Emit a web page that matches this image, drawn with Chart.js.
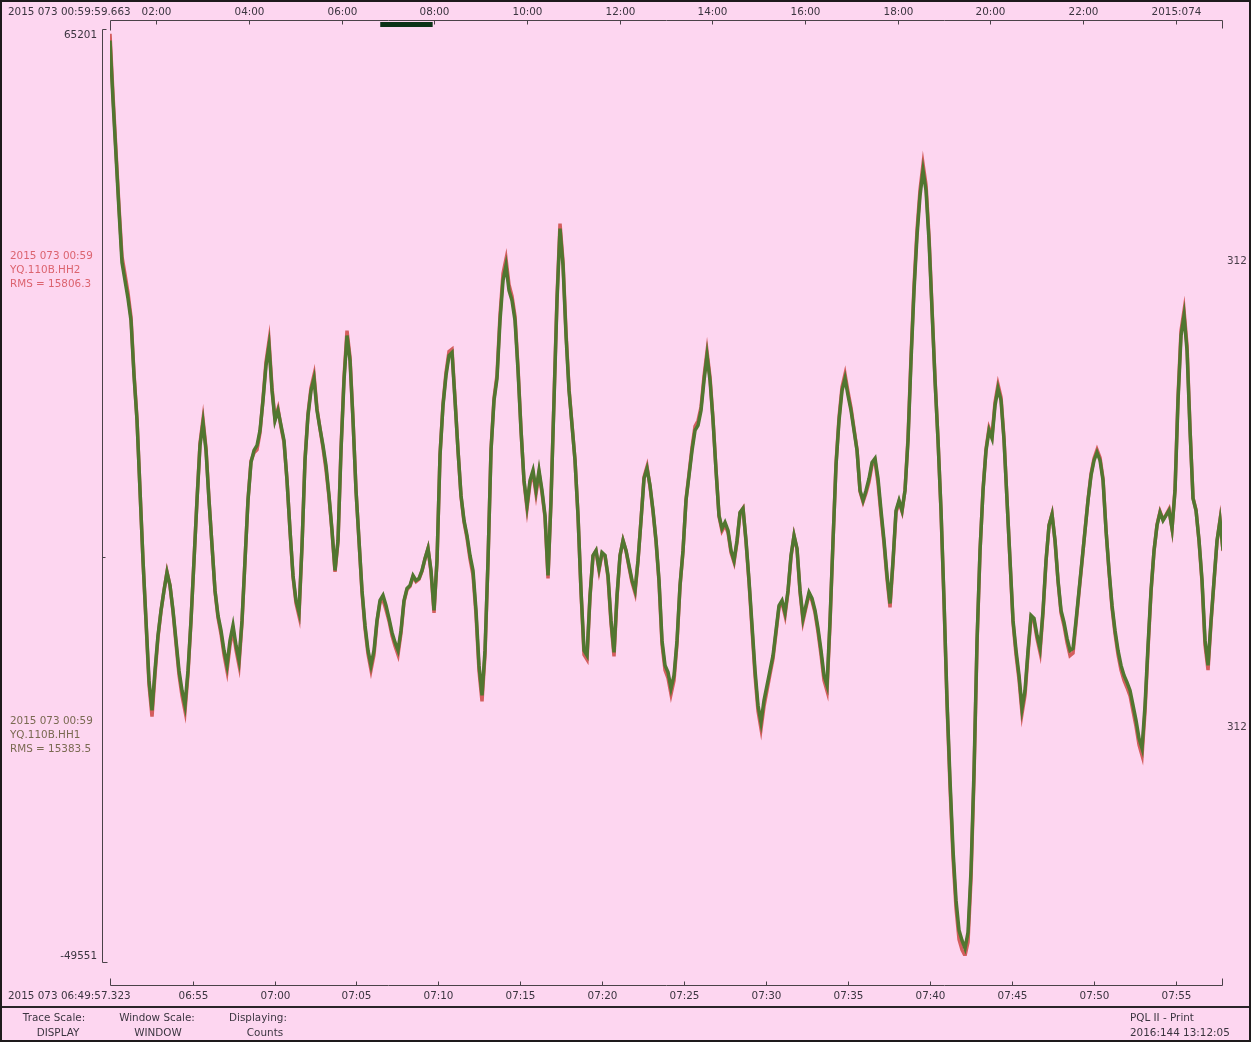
<!DOCTYPE html>
<html>
<head>
<meta charset="utf-8">
<script src="https://cdn.jsdelivr.net/npm/chart.js@4.4.1/dist/chart.umd.min.js"></script>
<style>
  html, body { margin: 0; padding: 0; background: #fdd6f0; }
  #wrap { position: relative; width: 1251px; height: 1042px; }
  canvas { display: block; }
</style>
</head>
<body>
<div id="wrap"><canvas id="pql" width="1251" height="1042"></canvas></div>
<script>
// ---- trace window (seconds of day 2015 073) ----
const windowStartSec = 6 * 3600 + 49 * 60 + 57.323;   // 06:49:57.323
const windowEndSec = 28669.7;                          // ~07:57:49.7
const sampleSec = 10.987;                              // decimated sample interval

// ---- full-day overview axis (seconds of day) ----
const dayStartSec = 3599.663;                          // 00:59:59.663
const dayEndSec = dayStartSec + 86400;

const countsMax = 65201;
const countsMin = -49551;
const countsMarks = [0];

// YQ.110B.HH1 (green), counts
const hh1Counts = [
  64260, 56810, 49970, 43130, 36670, 34430, 32190, 29460, 22620, 17030,
  8330, -370, -7830, -15290, -19020, -14050, -9700, -6590, -4100, -1860,
  -3480, -6590, -10320, -14050, -16530, -18400, -14050, -7830, -370, 7090,
  13920, 16780, 13300, 7090, 1490, -4100, -7210, -9070, -11560, -13420,
  -10320, -8450, -10940, -12800, -7830, -370, 7090, 11810, 13300, 13920,
  15790, 19520, 23870, 26350, 20760, 17030, 18270, 16410, 14540, 9570,
  3360, -2240, -5350, -6840, 1490, 12060, 17650, 20760, 22250, 18270,
  16030, 13920, 11440, 7710, 3360, -1620, 2110, 13300, 22000, 27590,
  24490, 17030, 8330, 2110, -4100, -8450, -11560, -13420, -11560, -7830,
  -5350, -4720, -5970, -7580, -9320, -10570, -11560, -9070, -5350, -3850,
  -3480, -2240, -2860, -2610, -1620, -120, 1120, -1620, -6590, -370,
  12680, 18890, 22620, 25110, 25480, 19520, 13300, 7710, 4600, 2730,
  250, -1620, -6590, -13420, -17150, -11560, -370, 13300, 19520, 22250,
  29460, 34430, 36300, 33190, 31950, 29460, 23240, 15790, 9570, 6460,
  9570, 10810, 8330, 10810, 8330, 5220, -2240, 7090, 19520, 31950,
  40890, 36300, 27590, 20760, 16410, 12060, 5220, -4100, -11560, -12180,
  -4720, 250, 870, -1370, 620, 250, -2240, -7830, -11810, -4720,
  250, 2110, 870, -990, -2860, -4100, -370, 4600, 9820, 11060,
  8950, 5840, 2110, -2860, -10320, -13420, -14290, -16280, -14670, -10320,
  -3480, 870, 7090, 10190, 13300, 15790, 16410, 18270, 22000, 25110,
  22000, 17030, 10810, 5220, 3600, 4350, 3360, 870, -370, 2110,
  5590, 6090, 2110, -2860, -8450, -14050, -18400, -20510, -17770, -15910,
  -14050, -12180, -9070, -5970, -5350, -6840, -4100, 250, 2730, 1120,
  -4100, -7580, -5970, -4350, -5100, -6590, -8830, -11560, -14670, -15910,
  -7830, 2110, 11440, 17030, 20760, 22250, 20140, 18270, 15790, 13300,
  8330, 7090, 8330, 9820, 11810, 12310, 9820, 5840, 2110, -2240,
  -5720, -370, 5840, 7090, 5840, 8330, 14540, 24490, 33190, 40020,
  45000, 48100, 45620, 39400, 30700, 22000, 14540, 5840, -5350, -17770,
  -27720, -36420, -42640, -46360, -47610, -48600, -46610, -38910, -26480, -10320,
  870, 8330, 13300, 15790, 14790, 18890, 21010, 19520, 14540, 7090,
  -370, -7830, -11560, -14670, -18770, -16530, -11560, -7210, -7580, -9700,
  -11310, -6590, -370, 3980, 5350, 2110, -2860, -6590, -8080, -10070,
  -11560, -11310, -7830, -4100, -370, 3360, 7090, 10190, 12060, 13050,
  12060, 9570, 3360, -1620, -5970, -9070, -11560, -13420, -14670, -15540,
  -16530, -18400, -20260, -22500, -23740, -18400, -10940, -4100, 870, 3980,
  5590, 4600, 5220, 5840, 3600, 8330, 19520, 27590, 30080, 25730,
  15790, 7330, 5840, 2110, -2860, -10320, -13420, -7830, -2860, 2110,
  4600, 870
];

// YQ.110B.HH2 (red), counts
const hh2Counts = [
  65100, 57500, 50500, 43600, 37400, 35200, 32900, 29900, 22900, 17200,
  8400, -400, -8000, -15800, -19800, -14600, -9900, -6700, -4100, -1800,
  -3500, -6700, -10700, -14600, -17200, -19100, -14500, -7900, -400, 7200,
  14200, 17200, 13600, 7200, 1500, -4200, -7500, -9500, -12100, -14100,
  -10900, -9000, -11500, -13400, -8100, -400, 7200, 12000, 13000, 13400,
  15500, 19700, 24300, 26900, 21100, 17200, 18500, 16200, 14300, 9600,
  3300, -2400, -5700, -7300, 1400, 12200, 17900, 21100, 22700, 18500,
  16000, 13600, 10900, 7500, 3200, -1800, 2000, 13500, 22400, 28200,
  24900, 17200, 8300, 2000, -4300, -8800, -12000, -14000, -12100, -8000,
  -5600, -5300, -6500, -7900, -9700, -11000, -12100, -9400, -5500, -4000,
  -3600, -2400, -3000, -2700, -1700, -200, 1100, -1800, -6900, -400,
  12800, 19100, 23000, 25600, 25900, 19700, 13300, 7600, 4400, 2400,
  -200, -2200, -7100, -14100, -17900, -12100, -400, 13400, 19800, 22700,
  30100, 35300, 37100, 33900, 32500, 30000, 23600, 15900, 9400, 6100,
  9200, 10500, 7900, 10500, 8000, 5000, -2600, 7200, 19800, 32400,
  41500, 36800, 28000, 21000, 16500, 12100, 5100, -4300, -12100, -12700,
  -4900, 200, 800, -1600, 500, 200, -2500, -8200, -12300, -4900,
  200, 2100, 800, -1200, -3100, -4400, -400, 4700, 10000, 11300,
  8800, 5700, 2000, -3100, -10800, -14000, -15000, -17000, -15300, -10700,
  -3600, 800, 7200, 10400, 13700, 16300, 17000, 18700, 22500, 25600,
  22400, 17200, 10900, 5100, 3300, 4000, 3100, 600, -600, 1900,
  5500, 6100, 1900, -3100, -8900, -14700, -19100, -21300, -18500, -16500,
  -14500, -12600, -9400, -6200, -5600, -7200, -4300, 100, 2700, 1000,
  -4300, -7900, -6200, -4600, -5400, -6900, -9300, -12100, -15300, -16600,
  -8200, 2000, 11700, 17400, 21200, 22800, 20600, 18600, 16000, 13400,
  8200, 6900, 8000, 9400, 11500, 12000, 9200, 5300, 1700, -2700,
  -6200, -600, 5600, 6900, 5700, 8400, 14900, 25000, 33800, 40700,
  45700, 48900, 46300, 39900, 31000, 22200, 14600, 5700, -5600, -18300,
  -28500, -37300, -43600, -47500, -48800, -49500, -47800, -39900, -27200, -10700,
  800, 8400, 13500, 16100, 15100, 19300, 21500, 19900, 14800, 7100,
  -500, -8100, -12100, -15200, -19400, -17100, -12000, -7500, -7900, -10100,
  -11800, -6900, -500, 4000, 5400, 2000, -3000, -6900, -8500, -10600,
  -12200, -11900, -8200, -4300, -500, 3400, 7200, 10400, 12300, 13400,
  12400, 9800, 3400, -1800, -6300, -9500, -12100, -14000, -15300, -16200,
  -17200, -19100, -21000, -23300, -24600, -19100, -11400, -4300, 800, 4100,
  5700, 4700, 5300, 6000, 3600, 8500, 20000, 28200, 30700, 26300,
  16000, 7400, 5900, 2000, -3100, -10900, -14000, -8100, -3000, 2000,
  4700, 800
];

// time-axis ticks (seconds of day) and labels
const windowTickSec = [24900, 25200, 25500, 25800, 26100, 26400, 26700, 27000, 27300, 27600, 27900, 28200, 28500];
const windowTickLabels = ['06:55', '07:00', '07:05', '07:10', '07:15', '07:20', '07:25', '07:30', '07:35', '07:40', '07:45', '07:50', '07:55'];
const dayTickSec = [7200, 14400, 21600, 28800, 36000, 43200, 50400, 57600, 64800, 72000, 79200, 86400];
const dayTickLabels = ['02:00', '04:00', '06:00', '08:00', '10:00', '12:00', '14:00', '16:00', '18:00', '20:00', '22:00', '2015:074'];

const dayStartLabel = '2015 073 00:59:59.663';
const windowStartLabel = '2015 073 06:49:57.323';

const traceLabels = [
  { lines: ['2015 073 00:59', 'YQ.110B.HH2', 'RMS = 15806.3'], color: '#dc6470', y: 256, scale: '312', scaleY: 261 },
  { lines: ['2015 073 00:59', 'YQ.110B.HH1', 'RMS = 15383.5'], color: '#7a6a52', y: 721, scaleY: 727, scale: '312' }
];

const statusLeft = [
  { title: 'Trace Scale:', value: 'DISPLAY', cx: 54, vx: 58 },
  { title: 'Window Scale:', value: 'WINDOW', cx: 157, vx: 158 },
  { title: 'Displaying:', value: 'Counts', cx: 258, vx: 265 }
];
const statusRight = ['PQL II - Print', '2016:144 13:12:05'];

const toPoints = arr => arr.map((v, i) => ({ x: windowStartSec + i * sampleSec, y: v }));

const FONT = '10.4px "DejaVu Sans", sans-serif';
const INK = '#3b3540';
const AXIS = '#4a4248';
const BG = '#fdd6f0';

function hline(ctx, x1, x2, y) { ctx.beginPath(); ctx.moveTo(x1, y); ctx.lineTo(x2, y); ctx.stroke(); }
function vline(ctx, x, y1, y2) { ctx.beginPath(); ctx.moveTo(x, y1); ctx.lineTo(x, y2); ctx.stroke(); }

const pqlFrame = {
  id: 'pqlFrame',
  beforeDraw(chart) {
    const ctx = chart.ctx;
    ctx.save();
    ctx.fillStyle = BG;
    ctx.fillRect(0, 0, chart.width, chart.height);
    ctx.restore();
  },
  afterDraw(chart) {
    const ctx = chart.ctx;
    const xs = chart.scales.x, xt = chart.scales.xTop, ys = chart.scales.y;
    const L = Math.round(xs.left) + 0.5, R = Math.round(xs.right) + 0.5;
    ctx.save();
    ctx.font = FONT;
    ctx.textBaseline = 'middle';
    ctx.strokeStyle = AXIS;
    ctx.lineWidth = 1;

    // overview (day) axis along the top
    const ty = 20.5;
    hline(ctx, L, R, ty);
    vline(ctx, L, ty, ty + 10);
    vline(ctx, R, ty, ty + 8);
    ctx.fillStyle = INK;
    ctx.textAlign = 'center';
    dayTickSec.forEach((s, i) => {
      const px = Math.round(xt.getPixelForValue(s)) + 0.5;
      vline(ctx, px, ty, ty + 4);
      ctx.fillText(dayTickLabels[i], px, 12);
    });
    ctx.textAlign = 'left';
    ctx.fillText(dayStartLabel, 8, 12);

    // displayed window marker on the overview axis
    const wx1 = xt.getPixelForValue(windowStartSec);
    const wx2 = xt.getPixelForValue(windowEndSec);
    ctx.fillStyle = '#0b3317';
    ctx.fillRect(wx1, 22, wx2 - wx1, 5);

    // window time axis along the bottom
    const by = 985.5;
    hline(ctx, L, R, by);
    vline(ctx, L, by, by - 7);
    vline(ctx, R, by, by - 7);
    ctx.fillStyle = INK;
    ctx.textAlign = 'center';
    windowTickSec.forEach((s, i) => {
      const px = Math.round(xs.getPixelForValue(s)) + 0.5;
      vline(ctx, px, by, by - 4);
      ctx.fillText(windowTickLabels[i], px, 996);
    });
    ctx.textAlign = 'left';
    ctx.fillText(windowStartLabel, 8, 996);

    // amplitude axis on the left
    const ax = 102.5;
    const yTop = Math.round(ys.getPixelForValue(countsMax)) - 3.5;
    const yBot = Math.round(ys.getPixelForValue(countsMin)) + 6.5;
    vline(ctx, ax, yTop, yBot);
    hline(ctx, ax, ax + 4, yTop);
    hline(ctx, ax, ax + 5, yBot);
    countsMarks.forEach(v => {
      const py = Math.round(ys.getPixelForValue(v)) + 0.5;
      hline(ctx, ax, ax + 3, py);
    });
    ctx.textAlign = 'right';
    ctx.fillText(String(countsMax), 97, ys.getPixelForValue(countsMax) + 2);
    ctx.fillText(String(countsMin), 97, ys.getPixelForValue(countsMin));

    // per-trace labels
    ctx.textAlign = 'left';
    traceLabels.forEach(t => {
      ctx.fillStyle = t.color;
      t.lines.forEach((s, k) => ctx.fillText(s, 10, t.y + k * 14));
      ctx.fillStyle = '#4a3e4a';
      ctx.fillText(t.scale, 1227, t.scaleY);
    });

    // status bar
    ctx.strokeStyle = '#2a2428';
    ctx.lineWidth = 2;
    hline(ctx, 0, chart.width, 1007);
    ctx.fillStyle = INK;
    ctx.textAlign = 'center';
    statusLeft.forEach(s => {
      ctx.fillText(s.title, s.cx, 1018);
      ctx.fillText(s.value, s.vx, 1033);
    });
    ctx.textAlign = 'left';
    ctx.fillText(statusRight[0], 1130, 1018);
    ctx.fillText(statusRight[1], 1130, 1033);

    // outer frame
    ctx.strokeStyle = '#1e1a1c';
    ctx.lineWidth = 2;
    ctx.strokeRect(1, 1, chart.width - 2, chart.height - 2);
    ctx.restore();
  }
};

new Chart(document.getElementById('pql').getContext('2d'), {
  type: 'line',
  data: {
    datasets: [
      { label: 'YQ.110B.HH1', data: toPoints(hh1Counts), borderColor: '#517630', borderWidth: 3.5, pointRadius: 0, tension: 0, order: 0 },
      { label: 'YQ.110B.HH2', data: toPoints(hh2Counts), borderColor: '#d45e5e', borderWidth: 3.5, pointRadius: 0, tension: 0, order: 1 }
    ]
  },
  options: {
    responsive: false,
    animation: false,
    devicePixelRatio: 1,
    layout: { padding: { left: 110, right: 29, top: 33, bottom: 86 } },
    plugins: { legend: { display: false }, tooltip: { enabled: false } },
    scales: {
      x: { type: 'linear', display: false, min: windowStartSec, max: windowEndSec },
      xTop: { type: 'linear', axis: 'x', position: 'top', display: false, min: dayStartSec, max: dayEndSec },
      y: { type: 'linear', display: false, min: countsMin, max: countsMax }
    }
  },
  plugins: [pqlFrame]
});
</script>
</body>
</html>
